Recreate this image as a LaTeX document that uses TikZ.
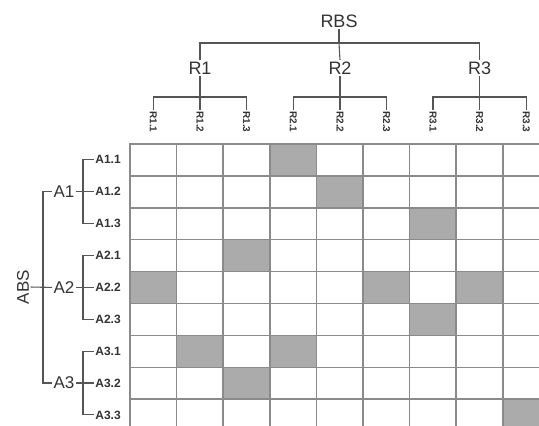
\documentclass[tikz,border=0pt]{standalone}
\usepackage{fontspec}
\setmainfont{Liberation Sans}
\definecolor{gridgray}{HTML}{8A8A8A}
\definecolor{cellshade}{HTML}{ABABAB}
\definecolor{treegray}{HTML}{555555}
\definecolor{txtgray}{HTML}{333333}
\begin{document}
\begin{tikzpicture}[x=0.5pt,y=-0.5pt,
  cell/.style={draw=gridgray, line width=0.75pt},
  tree/.style={draw=treegray, line width=0.55pt},
  top/.style={inner sep=0.6pt, text=txtgray, font=\fontsize{9}{10}\selectfont},
  rleaf/.style={inner sep=0.5pt, text=txtgray, rotate=-90, anchor=west, font=\fontsize{5}{6}\selectfont\bfseries},
  aleaf/.style={inner sep=0.5pt, text=txtgray, anchor=west, font=\fontsize{6}{7}\selectfont\bfseries}]
  \useasboundingbox (0,0) rectangle (539,425);
  % relation matrix, cut off at the right and bottom edges
  \begin{scope}
    \clip (0,0) rectangle (539,425);
    \foreach \r in {0,...,8}{
      \foreach \c in {0,...,8}{
        \draw[cell, fill=white] ({130+\c*46.6},{144+\r*31.9}) rectangle ++(46.6,31.9);
      }
    }
    \foreach \r/\c in {0/3,1/4,2/6,3/2,4/0,4/5,4/7,5/6,6/1,6/3,7/2,8/8}{
      \draw[cell, fill=cellshade] ({130+\c*46.6},{144+\r*31.9}) rectangle ++(46.6,31.9);
    }
  \end{scope}
  % top hierarchy
  \node[top] (RBS) at (339,21) {RBS};
  \coordinate (rbsbar) at (339,43);
  \foreach \i/\x in {1/200,2/340,3/479.6}{
    \node[top] (R\i) at (\x,68) {R\i};
    \foreach \j in {1,2,3}{
      \node[rleaf] (R\i\j) at ({\x+(\j-2)*46.6},110) {R\i.\j};
    }
    \draw[tree] (R\i.south) -- (R\i 2.west);
    \draw[tree] (R\i 1.west) -- ++(0,-13) -| (R\i 3.west);
  }
  \draw[tree] (RBS.south) -- (rbsbar);
  \draw[tree] (R1.north) -- (R1.north |- rbsbar) -- (R3.north |- rbsbar) -- (R3.north);
  \draw[tree] (rbsbar) -- (R2.north);
  % left hierarchy
  \node[top, rotate=90, font=\fontsize{8.5}{10}\selectfont] (ABS) at (23,287) {ABS};
  \foreach \i/\y in {1/191.7,2/287.4,3/383}{
    \node[top, font=\fontsize{8.5}{10}\selectfont] (A\i) at (64,\y) {A\i};
    \foreach \j in {1,2,3}{
      \node[aleaf] (A\i\j) at (94,{\y+(\j-2)*31.9}) {A\i.\j};
    }
    \draw[tree] (A\i.east) -- (A\i 2.west);
    \draw[tree] (A\i 1.west) -- ++(-11,0) |- (A\i 3.west);
  }
  \draw[tree] (ABS.south) -- (A2.west);
  \draw[tree] (A1.west) -- ++(-9,0) |- (A3.west);
\end{tikzpicture}
\end{document}
